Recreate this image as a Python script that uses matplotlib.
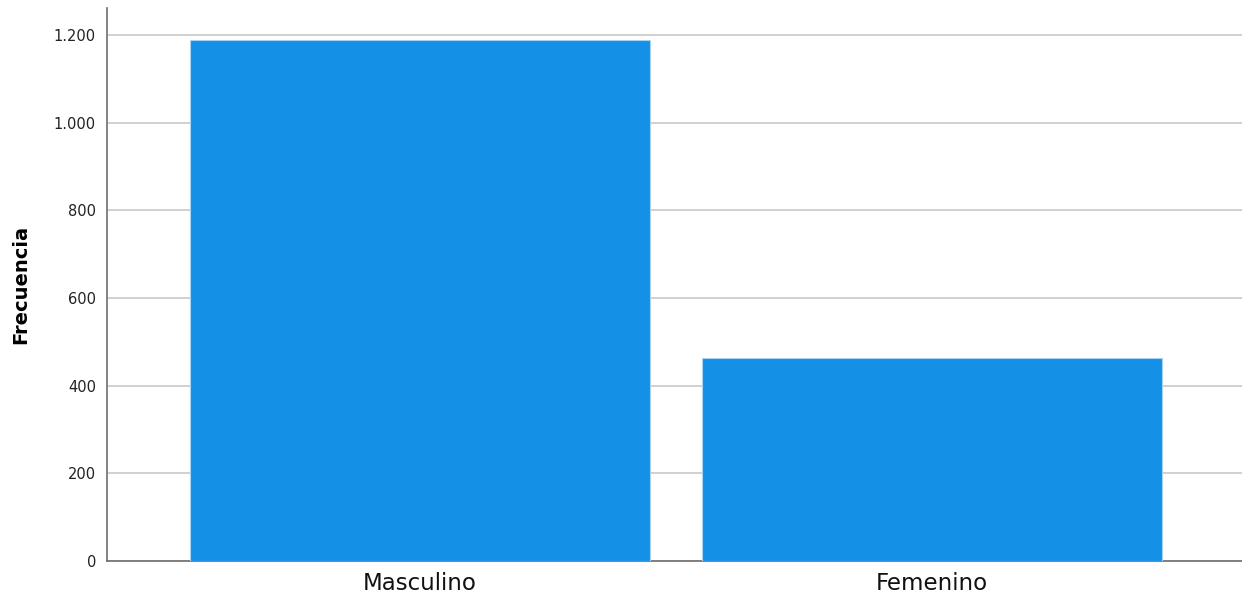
import matplotlib.pyplot as plt
from matplotlib.ticker import FuncFormatter

categorias = ['Masculino', 'Femenino']
frecuencias = [1189, 462]
yticks = [0, 200, 400, 600, 800, 1000, 1200]

fig = plt.figure(figsize=(12.42, 5.96), dpi=100)
ax = fig.add_axes([107/1242, 1 - 561/596, 1 - 107/1242, (561 - 8)/596])

x = list(range(len(categorias)))
ax.bar(x, frecuencias, width=460/512, color='#1490e6', edgecolor='#a9d3f5',
       linewidth=0.8, zorder=3)

ax.set_xlim((107 - 420)/512, (1242 - 420)/512)
ax.set_ylim(0, 1200 * 553/526)
ax.set_yticks(yticks)
ax.yaxis.set_major_formatter(FuncFormatter(lambda v, p: f'{int(v):,}'.replace(',', '.')))
ax.set_xticks(x)
ax.set_xticklabels(categorias, fontsize=16.5)
ax.tick_params(axis='y', length=0, labelsize=10.5, pad=8, colors='#222222')
ax.tick_params(axis='x', length=0, pad=8, colors='#111111')

ax.grid(axis='y', color='#c8c8c8', linewidth=1.2, zorder=0)
for s in ['top', 'right']:
    ax.spines[s].set_visible(False)
ax.spines['left'].set_color('#6e6e6e')
ax.spines['bottom'].set_color('#6e6e6e')
ax.spines['left'].set_linewidth(1.2)
ax.spines['bottom'].set_linewidth(1.2)

ax.set_ylabel('Frecuencia', fontsize=14, fontweight='bold', labelpad=17)

fig.savefig('out.png', dpi=100)
